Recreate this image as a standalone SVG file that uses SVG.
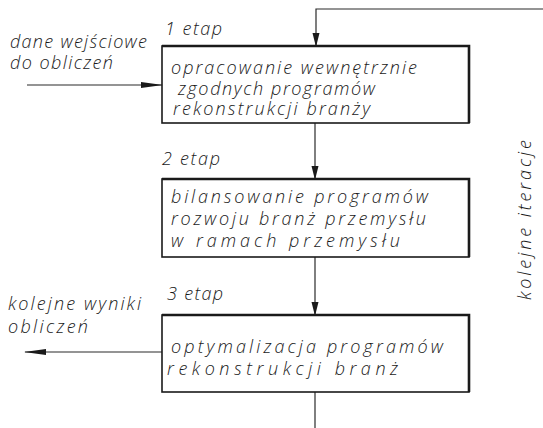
<svg xmlns="http://www.w3.org/2000/svg" width="543" height="428" viewBox="0 0 543 428">
<style>
text{font-family:"Open Sans","Liberation Sans","DejaVu Sans",sans-serif;font-style:italic;font-weight:300;font-size:18px;fill:#1a1a1a}
.box{fill:none;stroke:#1a1a1a;stroke-width:1.6}
.edge{fill:none;stroke:#1a1a1a;stroke-width:2.6}
.ln{fill:none;stroke:#2a2a2a;stroke-width:1.2}
</style>
<defs>
<marker id="ah" markerWidth="14" markerHeight="8" refX="13" refY="4" orient="auto" markerUnits="userSpaceOnUse">
<path d="M0,0.5 L14,4 L0,7.5 Z" fill="#1a1a1a"/>
</marker>
<marker id="ahl" markerWidth="22" markerHeight="8" refX="21" refY="4" orient="auto" markerUnits="userSpaceOnUse">
<path d="M0,1 L22,4 L0,7 Z" fill="#1a1a1a"/>
</marker>
</defs>
<rect width="543" height="428" fill="#fff"/>
<g id="connectors">
<path class="ln" d="M543,9 H316 V46" marker-end="url(#ah)"/>
<path class="ln" d="M315,123 V179" marker-end="url(#ah)"/>
<path class="ln" d="M315,257 V315" marker-end="url(#ah)"/>
<path class="ln" d="M315,392 V428"/>
<path class="ln" d="M27,85 H162" marker-end="url(#ahl)"/>
<path class="ln" d="M162,352 H25" marker-end="url(#ahl)"/>
</g>
<g id="etap1">
<text x="165" y="35" textLength="57" lengthAdjust="spacing">1 etap</text>
<rect class="box" x="162" y="46" width="307" height="77"/>
<path class="edge" d="M162,46 H469 V123"/>
<text x="171" y="74" textLength="246" lengthAdjust="spacing">opracowanie wewnętrznie</text>
<text x="178" y="95" textLength="197" lengthAdjust="spacing">zgodnych programów</text>
<text x="173" y="115" textLength="197" lengthAdjust="spacing">rekonstrukcji branży</text>
</g>
<g id="input">
<text x="10" y="48" textLength="137" lengthAdjust="spacing">dane wejściowe</text>
<text x="10" y="69" textLength="103" lengthAdjust="spacing">do obliczeń</text>
</g>
<g id="etap2">
<text x="162" y="165" textLength="58" lengthAdjust="spacing">2 etap</text>
<rect class="box" x="162" y="179" width="307" height="78"/>
<path class="edge" d="M162,179 H469 V257"/>
<text x="171" y="203" textLength="257" lengthAdjust="spacing">bilansowanie programów</text>
<text x="171" y="225" textLength="255" lengthAdjust="spacing">rozwoju branż przemysłu</text>
<text x="171" y="247" textLength="229" lengthAdjust="spacing">w ramach przemysłu</text>
</g>
<g id="etap3">
<text x="167" y="300" textLength="56" lengthAdjust="spacing">3 etap</text>
<rect class="box" x="162" y="315" width="307" height="77"/>
<path class="edge" d="M162,315 H469 V392"/>
<text x="171" y="353" textLength="272" lengthAdjust="spacing">optymalizacja programów</text>
<text x="167" y="375" textLength="231" lengthAdjust="spacing">rekonstrukcji branż</text>
</g>
<g id="output">
<text x="8" y="310" textLength="133" lengthAdjust="spacing">kolejne wyniki</text>
<text x="8" y="333" textLength="80" lengthAdjust="spacing">obliczeń</text>
</g>
<g id="iteracje">
<text transform="translate(531,300) rotate(-90)" textLength="160" lengthAdjust="spacing">kolejne iteracje</text>
</g>
</svg>
